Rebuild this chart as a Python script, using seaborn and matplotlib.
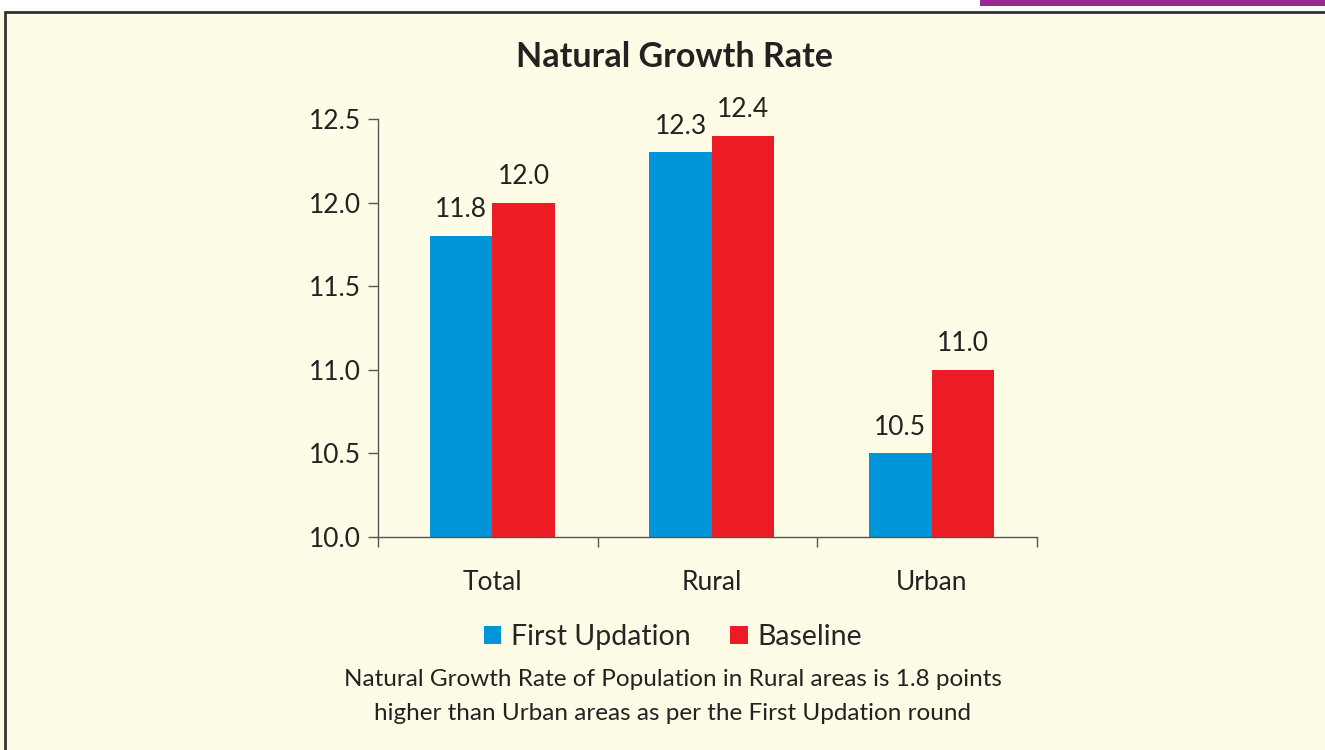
import pandas as pd
import seaborn as sns
import matplotlib.pyplot as plt
from matplotlib.patches import Rectangle
from matplotlib.lines import Line2D

# chart values
categories = ['Total', 'Rural', 'Urban']
first_updation = [11.8, 12.3, 10.5]
baseline = [12.0, 12.4, 11.0]
series_names = ['First Updation', 'Baseline']
y_ticks = [10.0, 10.5, 11.0, 11.5, 12.0, 12.5]

bg = '#FEFCE6'
colors = ['#0095D8', '#ED1C24']

sns.set_theme(style='white')
plt.rcParams['font.family'] = ['Lato', 'DejaVu Sans']

df = pd.DataFrame({
    'category': categories * 2,
    'value': first_updation + baseline,
    'series': [series_names[0]] * 3 + [series_names[1]] * 3,
})

fig = plt.figure(figsize=(13.25, 7.5), dpi=100)
fig.patch.set_facecolor(bg)

# white strip on top and purple tab, plus the frame lines
fig.patches.append(Rectangle((0, 1 - 12 / 750), 1, 12 / 750, transform=fig.transFigure,
                             facecolor='white', edgecolor='none', zorder=0))
fig.patches.append(Rectangle((980 / 1325, 1 - 6 / 750), 1, 6 / 750, transform=fig.transFigure,
                             facecolor='#9B2790', edgecolor='none', zorder=1))
fig.lines.append(Line2D([5 / 1325, 1], [1 - 12 / 750] * 2, transform=fig.transFigure,
                        color='#333333', lw=2))
fig.lines.append(Line2D([5 / 1325] * 2, [0, 1 - 12 / 750], transform=fig.transFigure,
                        color='#333333', lw=2))

ax = fig.add_axes([378 / 1325, 1 - 537 / 750, 659 / 1325, 418 / 750])
ax.set_facecolor(bg)

sns.barplot(data=df, x='category', y='value', hue='series', palette=colors,
            width=0.57, saturation=1, linewidth=0, ax=ax, legend=False)

ax.set_ylim(10, 12.5)
ax.set_xlim(-0.52, 2.48)
ax.set_yticks(y_ticks)
ax.set_yticklabels([f'{t:.1f}' for t in y_ticks], fontsize=19, color='#222222')
ax.set_xticks(range(3))
ax.set_xticklabels(categories, fontsize=19, color='#222222')
ax.set_xticks([-0.52, 0.48, 1.48, 2.48], minor=True)
ax.tick_params(axis='x', which='major', length=0, pad=24)
ax.tick_params(axis='x', which='minor', length=7, width=1, color='#555555', direction='out', bottom=True)
ax.tick_params(axis='y', length=7, width=1, color='#555555', direction='out', left=True, pad=5)
ax.set_xlabel('')
ax.set_ylabel('')
for s in ['top', 'right']:
    ax.spines[s].set_visible(False)
for s in ['left', 'bottom']:
    ax.spines[s].set_color('#555555')
    ax.spines[s].set_linewidth(1)

# value labels above bars
for cont in ax.containers:
    ax.bar_label(cont, fmt='%.1f', padding=10, fontsize=19, color='#222222')

fig.text(674 / 1325, 1 - 57 / 750, 'Natural Growth Rate', ha='center', va='center',
         fontsize=24.5, fontweight='bold', color='#222222')

handles = [Rectangle((0, 0), 1, 1, facecolor=c, edgecolor='none') for c in colors]
fig.legend(handles, series_names, loc='center', bbox_to_anchor=(673 / 1325, 1 - 637 / 750),
           ncol=2, frameon=False, fontsize=20.5, handlelength=0.6, handleheight=0.6,
           handletextpad=0.35, columnspacing=1.4)

fig.text(673 / 1325, 1 - 680 / 750, 'Natural Growth Rate of Population in Rural areas is 1.8 points',
         ha='center', va='center', fontsize=17.5, color='#222222')
fig.text(673 / 1325, 1 - 713 / 750, 'higher than Urban areas as per the First Updation round',
         ha='center', va='center', fontsize=17.5, color='#222222')

fig.savefig('out.png', dpi=100, facecolor=fig.get_facecolor())
